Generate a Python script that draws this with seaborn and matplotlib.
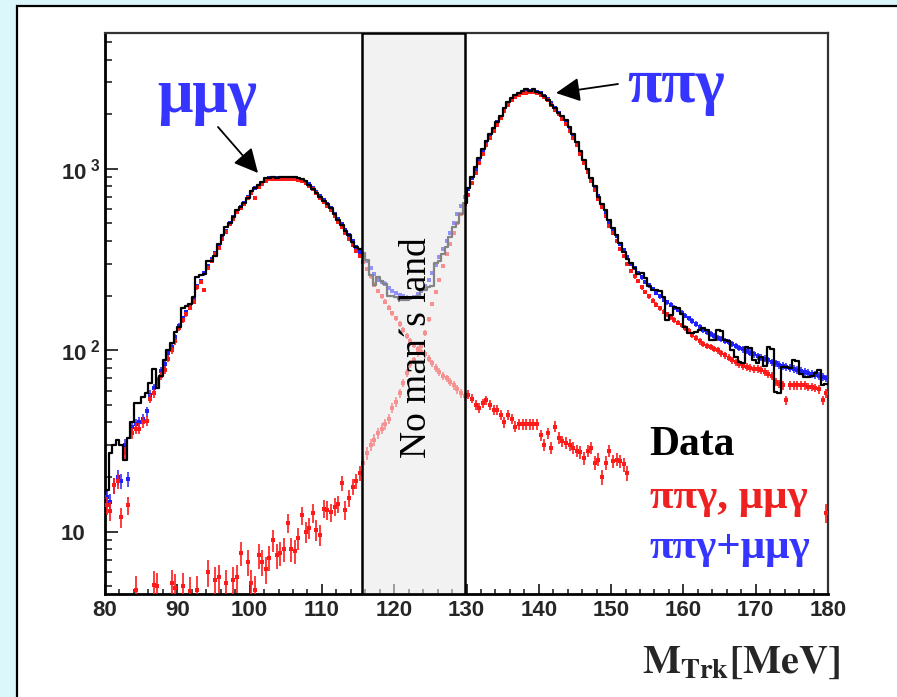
import numpy as np
import pandas as pd
import seaborn as sns
import matplotlib.pyplot as plt
from matplotlib.patches import Rectangle
from matplotlib.ticker import MultipleLocator, NullFormatter

nan = np.nan

# track invariant mass, 0.5 MeV bins between 80 and 180 MeV
bin_edges = np.arange(80.0, 180.001, 0.5)
centers = 0.5 * (bin_edges[:-1] + bin_edges[1:])
gap = (115.5, 129.75)   # "no man's land" window

# data (black histogram), one row = 5 MeV
data_counts = [
    17, 27, 30, 32, 30, 25, 33, 40, 51, 51,
    55, 58, 66, 79, 62, 72, 88, 100, 110, 126,
    134, 170, 176, 180, 196, 253, 259, 262, 310, 312,
    330, 385, 430, 480, 505, 540, 590, 615, 650, 690,
    750, 785, 810, 850, 890, 895, 900, 895, 905, 905,
    900, 905, 898, 895, 880, 860, 815, 775, 740, 700,
    665, 640, 610, 560, 525, 490, 455, 430, 395, 370,
    360, 345, 314, 260, 229, 253, 240, 231, 200, 198,
    196, 192, 190, 190, 193, 193, 200, 215, 215, 222,
    225, 302, 310, 340, 370, 422, 475, 500, 560, 650,
    780, 900, 1020, 1150, 1280, 1420, 1550, 1680, 1820, 1950,
    2150, 2330, 2460, 2560, 2630, 2680, 2760, 2680, 2760, 2640,
    2600, 2530, 2400, 2260, 2150, 2030, 1950, 1850, 1700, 1560,
    1400, 1250, 1120, 1000, 890, 800, 700, 640, 590, 520,
    470, 430, 390, 350, 320, 302, 285, 262, 265, 250,
    225, 215, 215, 212, 197, 147, 156, 174, 172, 158,
    135, 124, 124, 126, 129, 132, 130, 114, 114, 129,
    128, 114, 112, 100, 92, 86, 85, 104, 103, 88,
    85, 92, 82, 104, 102, 59, 58, 81, 81, 80,
    88, 87, 74, 71, 71, 72, 75, 78, 64, 65,
]

# MC pipigamma + mumugamma (blue)
mc_sum = [
    15.5, 14.5, 18, 20, 19, 30, 19.5, 38, 39, 40,
    42, 46, 57, 62, 68, 77, 84, 96, 104, 118,
    136, 150, 162, 175, 190, 225, 240, 265, 290, 318,
    345, 372, 420, 455, 505, 540, 585, 615, 650, 700,
    745, 780, 805, 835, 870, 885, 890, 888, 892, 895,
    892, 890, 885, 880, 870, 850, 820, 785, 745, 705,
    670, 640, 605, 565, 530, 495, 460, 430, 400, 372,
    350, 330, 310, 285, 262, 244, 238, 233, 220, 212,
    207, 202, 198, 195, 194, 197, 203, 212, 225, 243,
    268, 295, 325, 360, 400, 445, 500, 560, 625, 700,
    770, 890, 1000, 1130, 1260, 1400, 1530, 1660, 1800, 1940,
    2120, 2290, 2420, 2520, 2590, 2640, 2670, 2690, 2680, 2650,
    2600, 2530, 2420, 2290, 2160, 2040, 1920, 1790, 1650, 1500,
    1380, 1230, 1100, 980, 880, 790, 705, 635, 570, 510,
    465, 425, 385, 355, 325, 300, 285, 268, 252, 238,
    228, 218, 208, 198, 190, 184, 178, 172, 167, 161,
    155, 150, 145, 140, 134, 129, 126, 123, 120, 117,
    115, 113, 111, 108, 106, 103, 101, 99, 97, 95,
    93, 91, 90, 88, 86, 85, 83, 82, 81, 80,
    79, 78, 77, 76, 75, 74, 73, 72, 71, 70,
]

# MC mumugamma component (red)
mc_mumu = [
    14, 13, 18, 19, 12, 27, 14, 35, 37, 37,
    40, 41, 54, 58, 65, 72, 78, 90, 100, 112,
    132, 146, 158, 172, 185, 222, 238, 215, 285, 312,
    338, 365, 412, 448, 498, 532, 578, 608, 642, 690,
    735, 690, 795, 825, 860, 875, 880, 876, 880, 882,
    880, 878, 873, 868, 858, 838, 808, 773, 733, 694,
    655, 625, 592, 550, 512, 478, 442, 412, 382, 352,
    330, 305, 282, 255, 230, 212, 198, 185, 172, 160,
    150, 140, 130, 120, 113, 107, 102, 98, 95, 90,
    85, 80, 76, 72, 70, 67, 64, 61, 58, 56,
    57, 54, 50, 48, 51, 53, 50, 47, 47, 44,
    40, 44, 42, 38, 39, 39, 39, 39, 39, 39,
    34, 30, 35, 29, 38, 33, 31.5, 31, 30, 29,
    28, 27.5, 25.5, 28, 29, 24, 25, 20, 24, 28,
    24.5, 25, 24.5, 23.5, 21, nan, nan, nan, nan, nan,
    nan, nan, nan, nan, nan, nan, nan, nan, nan, nan,
    nan, nan, nan, nan, nan, nan, nan, nan, nan, nan,
    nan, nan, nan, nan, nan, nan, nan, nan, nan, nan,
    nan, nan, nan, nan, nan, nan, nan, nan, nan, nan,
    nan, nan, nan, nan, nan, nan, nan, nan, nan, 12.7,
]

# MC pipigamma component (red)
mc_pipi = [
    nan, nan, nan, nan, nan, nan, nan, nan, 4.8, nan,
    nan, nan, nan, 5.1, 5.0, nan, nan, nan, 5.2, 4.9,
    nan, 5.0, nan, 4.7, nan, 4.8, nan, nan, 6.0, nan,
    5.4, 5.6, nan, 5.2, nan, 5.4, 5.6, 7.6, nan, 6.8,
    5.2, 4.8, 7.4, 6.8, 6.2, 7.2, 9.0, 7.4, 7.6, 8.0,
    11.2, 8.0, 7.8, 9.2, 12.3, 10.0, 10.5, 12.7, 10.2, 9.6,
    13.4, 13.2, 12.8, 13.7, 14.2, 18.5, 13.2, 15.3, 17.7, 19.0,
    21, 24, 27, 30, 32, 35, 37, 39, 42, 48,
    52, 58, 66, 75, 84, 88, 96, 105, 125, 148,
    180, 210, 245, 290, 340, 385, 440, 500, 565, 640,
    715, 835, 950, 1080, 1210, 1345, 1480, 1610, 1750, 1895,
    2080, 2245, 2380, 2480, 2550, 2600, 2630, 2650, 2640, 2610,
    2565, 2500, 2385, 2260, 2120, 2005, 1890, 1760, 1620, 1470,
    1350, 1200, 1075, 955, 855, 765, 680, 612, 548, 485,
    440, 400, 360, 330, 300, 275, 255, 240, 222, 210,
    198, 188, 178, 170, 163, 158, 152, 147, 142, 137,
    133, 128, 122, 117, 112, 108, 106, 104, 102, 100,
    96, 94, 91, 88, 86, 84, 82, 81, 80, 79,
    79, 78, 76, 74, 72, 67, 65, 64, 53, 64,
    64, 64, 64, 64, 63, 63, 62, 61, 53, 58,
]

x_ticks = list(range(80, 181, 10))
y_ticks = [10, 100, 1000]
y_tick_labels = ["10", "10$^{\\ 2}$", "10$^{\\ 3}$"]

RED = "#ff1a1a"
BLUE = "#2020ff"
TXT_BLUE = "#3535ff"
TXT_RED = "#ee2020"

df = pd.DataFrame({"m": centers, "counts": data_counts, "sum": mc_sum,
                   "mumu": mc_mumu, "pipi": mc_pipi})

sns.set_style("ticks")
plt.rcParams["font.family"] = ["Liberation Sans", "DejaVu Sans"]
plt.rcParams["mathtext.fontset"] = "custom"
plt.rcParams["mathtext.rm"] = "Liberation Sans:bold"
plt.rcParams["mathtext.bf"] = "Liberation Sans:bold"
plt.rcParams["mathtext.it"] = "Liberation Sans:bold"

W, H = 897, 697
fig = plt.figure(figsize=(W / 100, H / 100), dpi=100, facecolor="#dbf7fc")
fig.add_artist(Rectangle((17 / W, -0.02), 1.0, 1 - 6 / H + 0.02, transform=fig.transFigure,
                         facecolor="white", edgecolor="black", lw=1.6, zorder=-1))

ax_l, ax_r, ax_t, ax_b = 105, 828, 33, 594
ax = fig.add_axes([ax_l / W, 1 - ax_b / H, (ax_r - ax_l) / W, (ax_b - ax_t) / H])
ax.set_facecolor("white")


def frac(px, py):
    # picture pixel -> axes fraction
    return ((px - ax_l) / (ax_r - ax_l), (ax_b - py) / (ax_b - ax_t))


def mc_err(v):
    return 0.42 * np.sqrt(np.asarray(v, dtype=float))


# gap background
ax.axvspan(*gap, color="#f2f2f2", zorder=0.5, lw=0)

# blue: sum of MC
ax.errorbar(df.m, df["sum"], yerr=mc_err(df["sum"]), fmt="none", ecolor=BLUE,
            elinewidth=1.1, zorder=3)
sns.scatterplot(data=df, x="m", y="sum", color=BLUE, s=9, marker="s", linewidth=0,
                ax=ax, zorder=3)

# red: single components
for col in ("mumu", "pipi"):
    ax.errorbar(df.m, df[col], xerr=0.25, yerr=mc_err(df[col]), fmt="none", ecolor=RED,
                elinewidth=1.2, zorder=4)
    sns.scatterplot(data=df, x="m", y=col, color=RED, s=8, marker="s", linewidth=0,
                    ax=ax, zorder=4)

# data histogram
sns.histplot(data=df, x="m", weights="counts", bins=list(bin_edges), element="step",
             fill=False, color="black", linewidth=1.6, ax=ax, zorder=5)

# fade everything inside the gap, then its frame
ax.add_patch(Rectangle((gap[0], 0), gap[1] - gap[0], 1, transform=ax.get_xaxis_transform(),
                       facecolor="#f2f2f2", alpha=0.55, edgecolor="none", zorder=6))
ax.add_patch(Rectangle((gap[0], 0), gap[1] - gap[0], 1, transform=ax.get_xaxis_transform(),
                       fill=False, edgecolor="black", lw=1.8, zorder=7))
ax.text(123.1, 0.44, "No man\u00b4s land", transform=ax.get_xaxis_transform(),
        rotation=90, ha="center", va="center", fontsize=27, family="Liberation Serif",
        color="black", zorder=8)

ax.set_yscale("log")
ax.set_xlim(80, 180)
ax.set_ylim(4.54, 5600)
ax.set_xlabel("")
ax.set_ylabel("")

ax.set_xticks(x_ticks)
ax.set_xticklabels([str(t) for t in x_ticks], fontsize=16, fontweight="bold")
ax.xaxis.set_minor_locator(MultipleLocator(2))
ax.set_yticks(y_ticks)
# ROOT style: the "10" of every label starts at the same x
ax.set_yticklabels(y_tick_labels, fontsize=16, fontweight="bold", ha="left")
ax.yaxis.set_minor_formatter(NullFormatter())

ax.tick_params(axis="x", which="major", direction="in", length=7, width=1.3, pad=4)
ax.tick_params(axis="x", which="minor", direction="in", length=3.5, width=1.2)
ax.tick_params(axis="y", which="major", direction="in", length=9.5, width=1.3, pad=32)
ax.tick_params(axis="y", which="minor", direction="in", length=5, width=1.2)
ax.tick_params(top=False, right=False, which="both")

for side in ("left", "bottom"):
    ax.spines[side].set_linewidth(2.0)
    ax.spines[side].set_color("black")
for side in ("top", "right"):
    ax.spines[side].set_linewidth(1.6)
    ax.spines[side].set_color("#333333")
    ax.spines[side].set_visible(True)

# peak labels with arrows
arrow = dict(arrowstyle="-|>,head_length=0.7,head_width=0.35", mutation_scale=21,
             color="black", lw=1.3, shrinkA=0, shrinkB=0)
ax.annotate("", xy=frac(258, 173), xytext=frac(218, 127), xycoords="axes fraction",
            textcoords="axes fraction", arrowprops=arrow)
ax.annotate("", xy=frac(556, 93), xytext=frac(618, 84), xycoords="axes fraction",
            textcoords="axes fraction", arrowprops=arrow)
greek = dict(transform=ax.transAxes, fontsize=45, fontweight="bold",
             family="Liberation Serif", color=TXT_BLUE, ha="left", va="baseline")
ax.text(*frac(157, 112), "\u03bc\u03bc\u03b3", **greek)
ax.text(*frac(627, 102), "\u03c0\u03c0\u03b3", **greek)

# legend-like labels
ax.text(*frac(649, 455), "Data", transform=ax.transAxes, fontsize=30, fontweight="bold",
        family="Liberation Serif", color="black", ha="left", va="baseline")
ax.text(*frac(650, 508), "\u03c0\u03c0\u03b3, \u03bc\u03bc\u03b3", transform=ax.transAxes,
        fontsize=31, fontweight="bold", family="Liberation Serif", color=TXT_RED,
        ha="left", va="baseline")
ax.text(*frac(650, 558), "\u03c0\u03c0\u03b3+\u03bc\u03bc\u03b3", transform=ax.transAxes,
        fontsize=31, fontweight="bold", family="Liberation Serif", color=TXT_BLUE,
        ha="left", va="baseline")

fig.text(642 / W, 1 - 673 / H, r"$\mathbf{M_{Trk}[MeV]}$", fontsize=29,
         math_fontfamily="stix", ha="left", va="baseline")

fig.savefig("out.png", dpi=100)
